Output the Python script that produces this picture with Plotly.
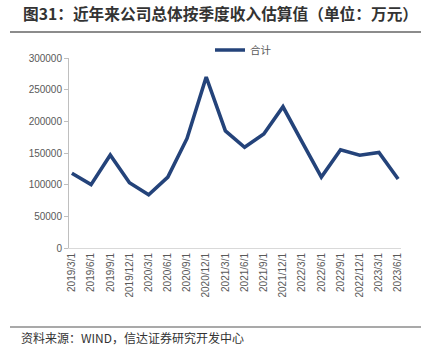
import plotly.graph_objects as go

categories = ["2019/3/1", "2019/6/1", "2019/9/1", "2019/12/1", "2020/3/1", "2020/6/1",
              "2020/9/1", "2020/12/1", "2021/3/1", "2021/6/1", "2021/9/1", "2021/12/1",
              "2022/3/1", "2022/6/1", "2022/9/1", "2022/12/1", "2023/3/1", "2023/6/1"]
total = [118000, 100000, 147000, 103000, 84000, 112000, 173000, 270000, 185000, 159000,
         180000, 223000, 167000, 112000, 155000, 146500, 151000, 109000]
y_ticks = [0, 50000, 100000, 150000, 200000, 250000, 300000]

title_text = "图31：近年来公司总体按季度收入估算值（单位：万元）"
source_text = "资料来源：WIND，信达证券研究开发中心"

fig = go.Figure()
fig.add_trace(go.Scatter(x=list(range(len(categories))), y=total, mode="lines", name="合计",
                         line=dict(color="#24437A", width=3.6)))

fig.update_layout(
    width=431, height=356,
    margin=dict(l=69, r=30, t=58, b=108, autoexpand=False),
    paper_bgcolor="white", plot_bgcolor="white",
    font=dict(family="Noto Sans CJK SC, Liberation Sans, sans-serif", color="#595959", size=10),
    showlegend=True,
    legend=dict(x=(210 - 69) / 332, y=1 + (58 - 50) / 190, xanchor="left", yanchor="middle",
                orientation="h",
                font=dict(size=10.5, color="#595959"), bgcolor="rgba(0,0,0,0)",
                itemwidth=30),
    xaxis=dict(range=[-0.15, 17.15], tickmode="array",
               tickvals=list(range(len(categories))), ticktext=categories,
               tickangle=-90, showgrid=False, showline=True, linecolor="#D9D9D9",
               linewidth=1, ticks="", zeroline=False, automargin=False,
               tickfont=dict(family="Liberation Sans, sans-serif", size=10, color="#595959")),
    yaxis=dict(range=[0, 300000], tickmode="array", tickvals=y_ticks,
               ticktext=[str(v) for v in y_ticks], showgrid=False, showline=True,
               linecolor="#BFBFBF", linewidth=1, ticks="outside", ticklen=4,
               tickcolor="#BFBFBF", zeroline=False, automargin=False,
               tickfont=dict(family="Liberation Sans, sans-serif", size=10, color="#595959")),
)

fig.add_annotation(text="<b>" + title_text + "</b>", xref="paper", yref="paper",
                   x=(21 - 69) / 332, y=1 + (58 - 14) / 190, xanchor="left", yanchor="middle",
                   showarrow=False,
                   font=dict(family="Noto Sans CJK SC", size=15.7, color="#333333"))
fig.add_shape(type="line", xref="paper", yref="paper",
              x0=(10 - 69) / 332, x1=(421 - 69) / 332,
              y0=1 + (58 - 32) / 190, y1=1 + (58 - 32) / 190,
              line=dict(color="#8C8C8C", width=2))
fig.add_shape(type="line", xref="paper", yref="paper",
              x0=(10 - 69) / 332, x1=(421 - 69) / 332,
              y0=-(327 - 248) / 190, y1=-(327 - 248) / 190,
              line=dict(color="#8C8C8C", width=1.5))
fig.add_annotation(text=source_text, xref="paper", yref="paper",
                   x=(19 - 69) / 332, y=-(337 - 248) / 190, xanchor="left", yanchor="middle",
                   showarrow=False,
                   font=dict(family="Noto Sans CJK SC", size=12, color="#333333"))

fig.write_html("out.html", config={"displayModeBar": False},
               post_script="document.body.style.margin='0';")
